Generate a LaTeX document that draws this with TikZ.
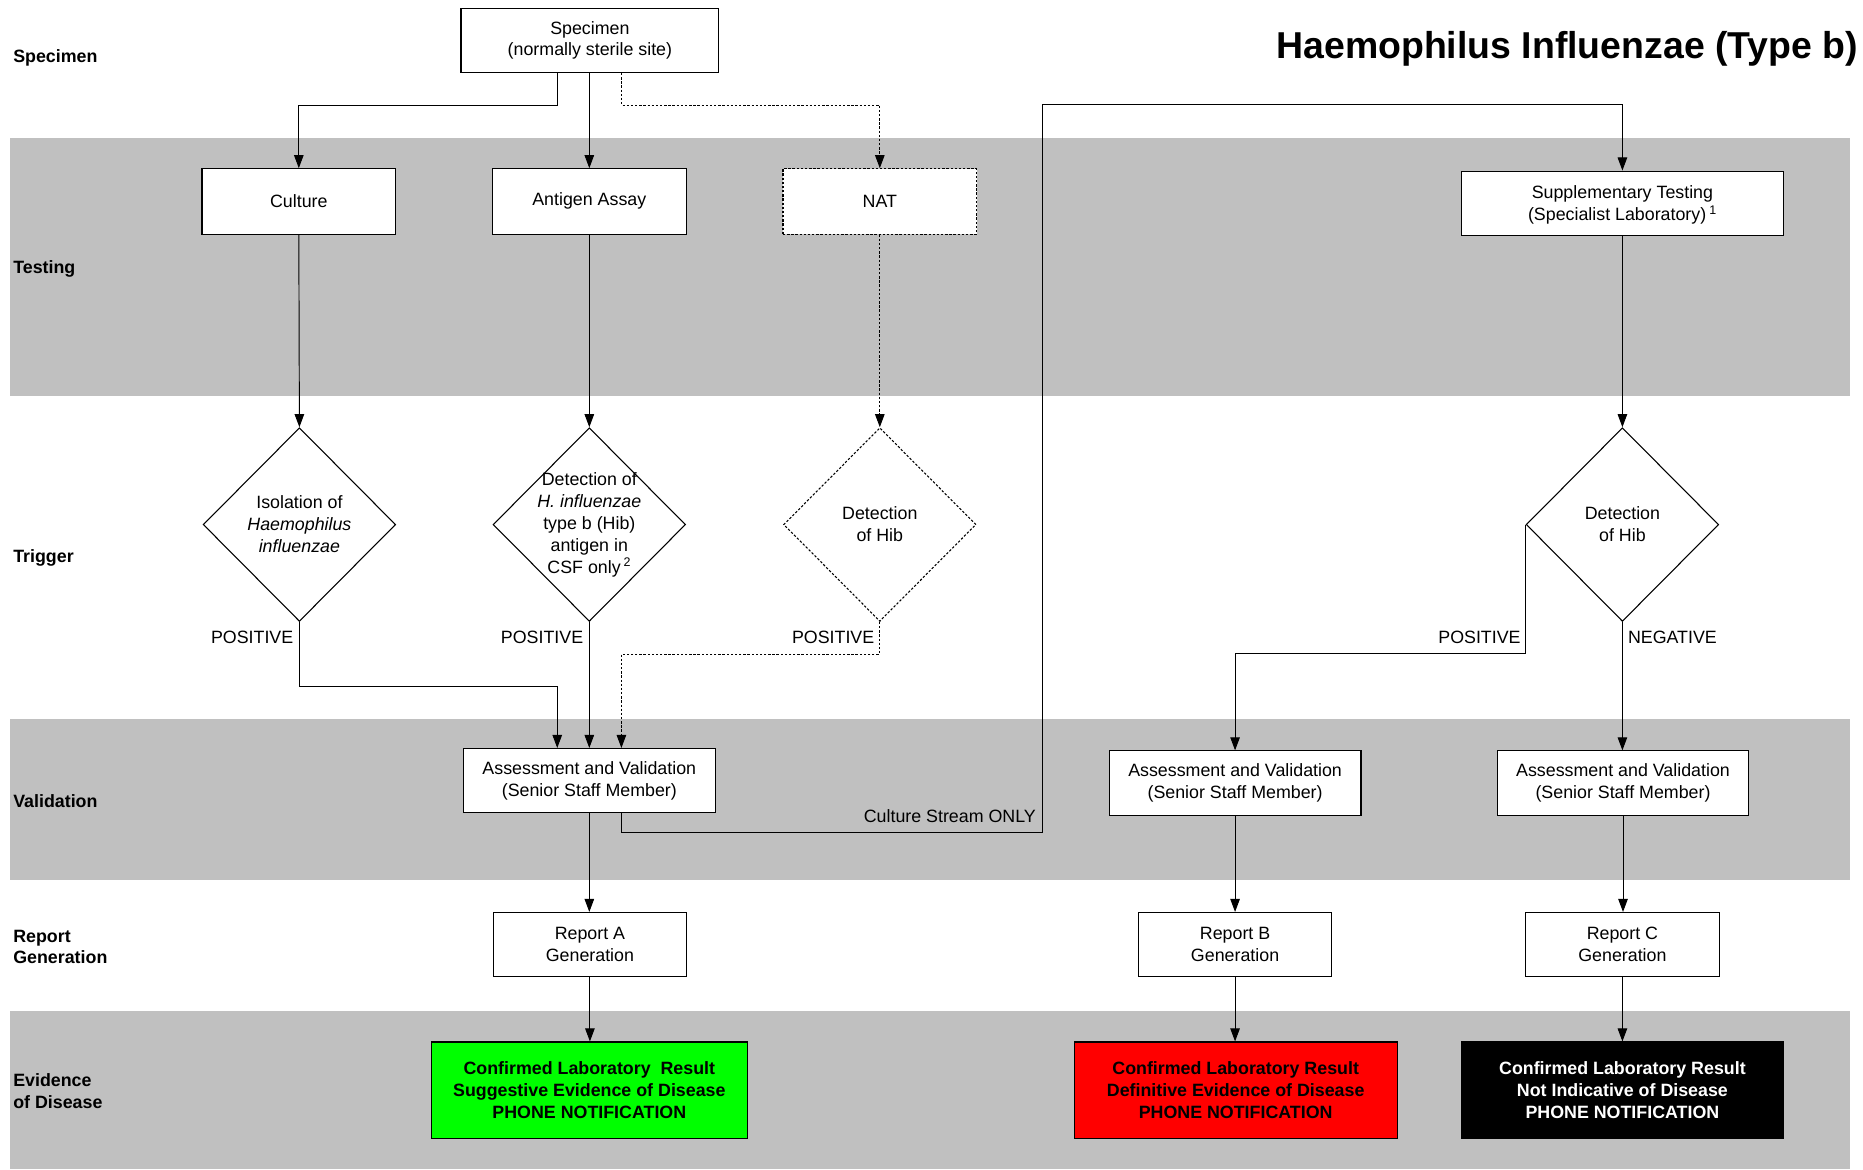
\documentclass[tikz,border=0pt]{standalone}
\usepackage{fontspec}
\setmainfont{Liberation Sans}
\usetikzlibrary{arrows.meta,shapes.geometric}
\definecolor{bandgray}{HTML}{C0C0C0}
\definecolor{okgreen}{HTML}{00FF00}
\definecolor{alertred}{HTML}{FF0000}
\begin{document}
\begin{tikzpicture}[x=1pt,y=-1pt,
  every node/.style={font=\fontsize{15}{18.5}\selectfont},
  box/.style={draw, line width=0.9pt, fill=white, align=center, inner sep=0pt},
  dotbox/.style={box, dash pattern=on 2pt off 1.5pt},
  dia/.style={diamond, draw, fill=white, line width=0.9pt, inner sep=0pt,
              minimum width=162pt, minimum height=163pt},
  dotdia/.style={dia, dash pattern=on 2pt off 1.5pt},
  txt/.style={align=center, inner sep=0pt},
  lab/.style={anchor=west, align=left, inner sep=0pt, font=\fontsize{15}{18.5}\selectfont\bfseries},
  evid/.style={draw, line width=0.9pt, align=center, inner sep=0pt, minimum height=81pt,
               font=\fontsize{15}{18.5}\selectfont\bfseries},
  arr/.style={-{Triangle[length=11pt,width=8pt]}, line width=0.8pt},
  dotarr/.style={arr, dash pattern=on 2pt off 1.5pt},
  edgelab/.style={inner sep=0pt}
]
\useasboundingbox (0,0) rectangle (1568,984);
\fill[white] (0,0) rectangle (1568,984);

% swim-lane bands
\fill[bandgray] (8,116) rectangle (1557,333);
\fill[bandgray] (8,605) rectangle (1557,741);
\fill[bandgray] (8,851) rectangle (1557,984);

% lane labels
\node[lab] (lspec) at (11,49) {Specimen};
\node[lab] (ltest) at (11,226) {Testing};
\node[lab] (ltrig) at (11,470) {Trigger};
\node[lab] (lvali) at (11,674) {Validation};
\node[lab] (lrepo) at (11,797) {Report\\Generation};
\node[lab] (levid) at (11,918) {Evidence\\of Disease};

% title
\node[anchor=east, inner sep=0pt, font=\fontsize{31.5}{36}\selectfont\bfseries] (title) at (1564,41)
  {Haemophilus Influenzae (Type b)};

% specimen and tests
\node[box, minimum width=217pt, minimum height=54pt] (spec) at (496.5,34) {Specimen\\(normally sterile site)};
\node[box, minimum width=163pt, minimum height=55pt] (cult) at (251.5,169.5) {Culture};
\node[box, minimum width=163pt, minimum height=55pt] (ant) at (496,169.5) {Antigen Assay};
\node[dotbox, minimum width=163pt, minimum height=55pt] (nat) at (740.5,169.5) {NAT};
\node[box, minimum width=271pt, minimum height=54pt, text depth=0pt] (supp) at (1365.5,171)
  {Supplementary Testing\\(Specialist Laboratory)\,\textsuperscript{1}};

% triggers
\node[dia] (d1) at (252,441.5) {};
\node[txt] (d1t) at (d1.center) {Isolation of\\\textit{Haemophilus}\\\textit{influenzae}};
\node[dia] (d2) at (496,441.5) {};
\node[txt] (d2t) at (d2.center) {Detection of\\\textit{H. influenzae}\\type b (Hib)\\antigen in\\CSF only\,\textsuperscript{2}};
\node[dotdia] (d3) at (740.5,441.5) {};
\node[txt] (d3t) at (d3.center) {Detection\\of Hib};
\node[dia] (d4) at (1365.5,441.5) {};
\node[txt] (d4t) at (d4.center) {Detection\\of Hib};

% validation
\node[box, minimum width=212pt, minimum height=54pt] (assA) at (496,657) {Assessment and Validation\\(Senior Staff Member)};
\node[box, minimum width=212pt, minimum height=54pt] (assB) at (1039.5,659) {Assessment and Validation\\(Senior Staff Member)};
\node[box, minimum width=212pt, minimum height=54pt] (assC) at (1366,659) {Assessment and Validation\\(Senior Staff Member)};

% reports
\node[box, minimum width=163pt, minimum height=54pt] (repA) at (496.5,795) {Report A\\Generation};
\node[box, minimum width=163pt, minimum height=54pt] (repB) at (1039.5,795) {Report B\\Generation};
\node[box, minimum width=163pt, minimum height=54pt] (repC) at (1365.5,795) {Report C\\Generation};

% evidence of disease
\node[evid, fill=okgreen, minimum width=266pt] (evA) at (496,917.5)
  {Confirmed Laboratory\ \ Result\\Suggestive Evidence of Disease\\PHONE NOTIFICATION};
\node[evid, fill=alertred, minimum width=272pt] (evB) at (1040,917.5)
  {Confirmed Laboratory Result\\Definitive Evidence of Disease\\PHONE NOTIFICATION};
\node[evid, fill=black, text=white, minimum width=271pt] (evC) at (1365.5,917.5)
  {Confirmed Laboratory Result\\Not Indicative of Disease\\PHONE NOTIFICATION};

% specimen to tests
\draw[arr] ([xshift=-27.5pt]spec.south) -- ++(0,27) -| (cult.north);
\draw[arr] (spec.south -| ant.north) -- (ant.north);
\draw[dotarr] ([xshift=26.5pt]spec.south) -- ++(0,27) -| (nat.north);

% tests to triggers
\draw[arr] (cult.south) -- (d1.north);
\draw[arr] (ant.south) -- (d2.north);
\draw[dotarr] (nat.south) -- (d3.north);
\draw[arr] (supp.south) -- (d4.north);

% triggers to validation
\draw[arr] (d1.south) -- ++(0,54) -| ([xshift=-27pt]assA.north);
\draw[arr] (d2.south) -- (d2.south |- assA.north);
\draw[dotarr] (d3.south) -- ++(0,27) -| ([xshift=27pt]assA.north);
\draw[arr] (d4.west) -- ++(0,108.5) -| (assB.north);
\draw[arr] (d4.south) -- (d4.south |- assC.north);

\node[edgelab, anchor=base east] (p1) at (247,541.5) {POSITIVE};
\node[edgelab, anchor=base east] (p2) at (491,541.5) {POSITIVE};
\node[edgelab, anchor=base east] (p3) at (736,541.5) {POSITIVE};
\node[edgelab, anchor=base east] (p4) at (1280,541.5) {POSITIVE};
\node[edgelab, anchor=base west] (n4) at (1370,541.5) {NEGATIVE};

% culture stream to supplementary testing
\coordinate (cs1) at (877,701);
\coordinate (cs2) at (877,88);
\draw[arr] ([xshift=27pt]assA.south) |- (cs1) -- (cs2) -| (supp.north);
\node[edgelab, anchor=base east] (csl) at (872,692.5) {Culture Stream ONLY};

% validation to reports to evidence
\draw[arr] (assA.south) -- (assA.south |- repA.north);
\draw[arr] (repA.south) -- (repA.south |- evA.north);
\draw[arr] (assB.south) -- (assB.south |- repB.north);
\draw[arr] (repB.south) -- (repB.south |- evB.north);
\draw[arr] (assC.south) -- (assC.south |- repC.north);
\draw[arr] (repC.south) -- (repC.south |- evC.north);
\end{tikzpicture}
\end{document}
